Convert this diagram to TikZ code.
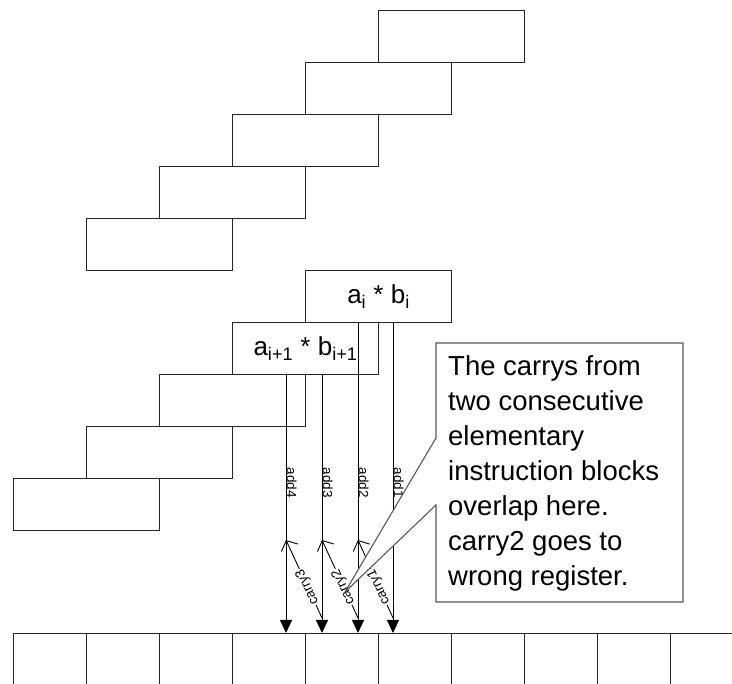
\documentclass[tikz,border=0pt]{standalone}
\usepackage{fontspec}
\setmainfont{Liberation Sans}
\usetikzlibrary{arrows.meta}

\begin{document}
\begin{tikzpicture}[x=1pt,y=-1pt,
  blk/.style={draw=black!85, line width=1.1pt, minimum width=146pt, minimum height=52pt,
    inner sep=0pt, anchor=north west, font=\fontsize{26}{30}\selectfont},
  cell/.style={draw=black!85, line width=1.1pt, minimum width=73pt, minimum height=70pt,
    inner sep=0pt, anchor=north west},
  addline/.style={line width=1pt, -{Triangle[length=13pt,width=12pt]}},
  carryline/.style={line width=0.9pt, -{Straight Barb[length=8pt,width=18pt,line width=0.9pt]}},
  addlbl/.style={font=\fontsize{13.5}{16}\selectfont, rotate=-90, anchor=south west, inner sep=0.5pt},
  carrylbl/.style={font=\fontsize{13.5}{16}\selectfont, fill=white, inner sep=1pt,
    sloped, allow upside down, pos=0.4},
  notetext/.style={font=\fontsize{27.5}{35}\selectfont, align=left, inner sep=0pt, anchor=north west},
]
\useasboundingbox (0,0) rectangle (732,684);
\clip (0,0) rectangle (732,684);

% upper staircase of instruction blocks
\node[blk] (s1) at (378,10) {};
\node[blk] (s2) at (305,62) {};
\node[blk] (s3) at (232,114) {};
\node[blk] (s4) at (159,166) {};
\node[blk] (s5) at (86,218) {};

% lower staircase with the two labelled blocks
\node[blk] (ai) at (305,270) {a\textsubscript{i} * b\textsubscript{i}};
\node[blk] (pij) at (232,322) {a\textsubscript{i+1} * b\textsubscript{i+1}};
\node[blk] (l3) at (159,374) {};
\node[blk] (l4) at (86,426) {};
\node[blk] (l5) at (13,478) {};

% register cells
\foreach \k in {0,...,9}
  \node[cell] (r\k) at (13+73*\k,633) {};

% start and end points of the add connectors
\coordinate (t4) at ([xshift=54pt]pij.south west);
\coordinate (t3) at ([xshift=90pt]pij.south west);
\coordinate (t2) at ([xshift=53pt]ai.south west);
\coordinate (t1) at ([xshift=88pt]ai.south west);
\foreach \n in {1,...,4}
  \coordinate (e\n) at (t\n |- r0.north);

% add connectors
\foreach \n in {1,...,4}
  \draw[addline] (t\n) -- (e\n);
\foreach \n in {1,...,4}
  \node[addlbl] (add\n) at ([yshift=166pt]e\n) {add\n};

% carry connectors
\draw[carryline] ([yshift=15pt]e3) -- node[carrylbl] (c3) {carry3} ([yshift=93pt]e4);
\draw[carryline] ([yshift=15pt]e2) -- node[carrylbl] (c2) {carry2} ([yshift=93pt]e3);
\draw[carryline] ([yshift=15pt]e1) -- node[carrylbl] (c1) {carry1} ([yshift=93pt]e2);

% callout with its pointer
\draw[line width=1.1pt, draw=black!65, fill=white]
  (436,343) -- (683,343) -- (683,602) -- (436,602) -- (436,505) -- (345,592) -- (436,438) -- cycle;
\node[notetext] (note) at (448,355) {The carrys from\\two consecutive\\elementary\\instruction blocks\\overlap here.\\carry2 goes to\\wrong register.};
\end{tikzpicture}
\end{document}
